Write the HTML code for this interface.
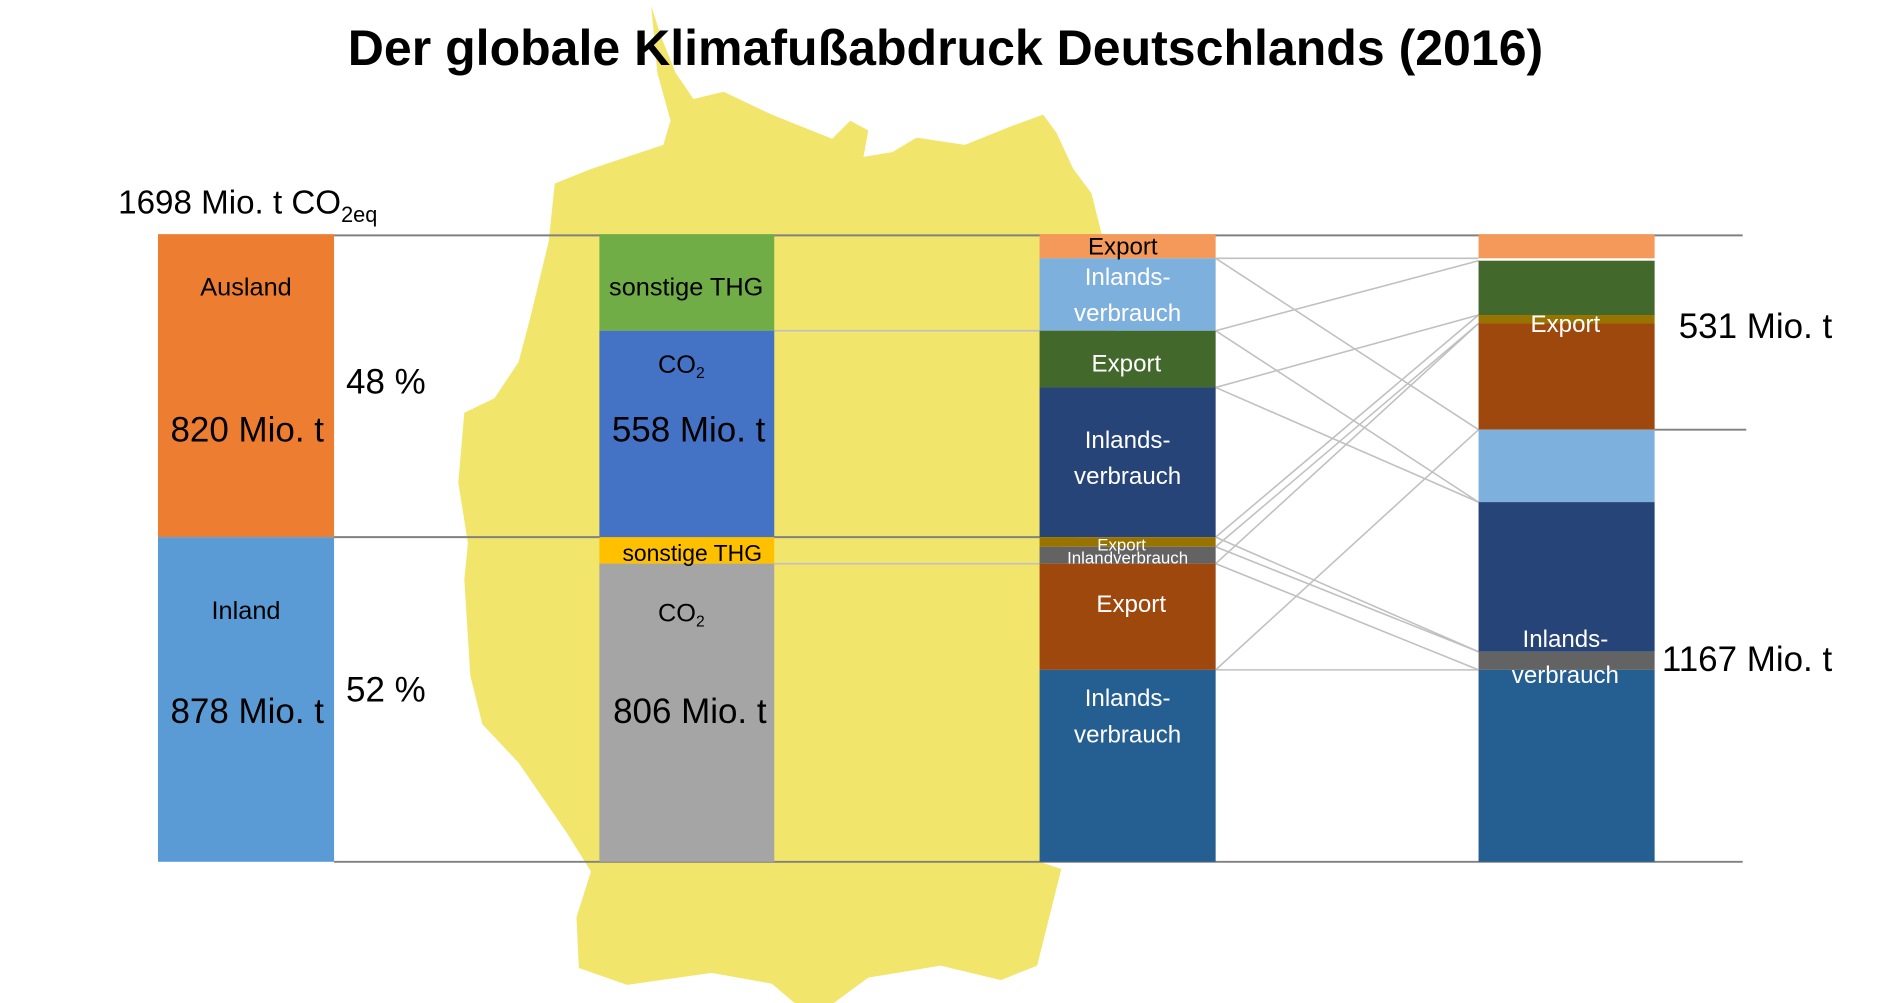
<!DOCTYPE html>
<html><head><meta charset="utf-8"><style>
html,body{margin:0;padding:0;background:#fff;width:1891px;height:1003px;overflow:hidden}
svg{display:block}
text{font-family:"Liberation Sans",sans-serif}
</style></head><body>
<svg width="1891" height="1003" viewBox="0 0 1568 831" preserveAspectRatio="none" xmlns="http://www.w3.org/2000/svg">
<rect width="1568" height="831" fill="#fff"/>
<polygon fill="#f2e56b" points="540,5 548,30 560,60 575,82 600,76 640,95 690,115 705,100 720,108 716,130 740,126 760,114 800,120 840,104 865,95 876,110 890,140 905,160 915,200 920,240 930,300 925,360 935,420 900,440 870,460 862,480 862,714 880,720 870,760 860,800 830,812 780,800 720,810 690,832 660,832 640,815 590,806 520,816 480,802 478,760 490,722 470,690 430,632 400,600 390,560 385,480 388,450 380,400 385,342 410,330 430,300 440,262 455,200 460,152 490,140 520,130 550,120 556,100 545,60"/>
<g stroke="#808080" stroke-width="1.6">
<line x1="277" y1="195" x2="1445" y2="195"/>
<line x1="277" y1="445" x2="862" y2="445"/>
<line x1="277" y1="714" x2="1445" y2="714"/>
<line x1="1372" y1="356" x2="1448" y2="356"/>
</g>
<g stroke="#c0c0c0" stroke-width="1.3">
<line x1="642" y1="274" x2="862" y2="274"/>
<line x1="642" y1="467" x2="862" y2="467"/>
<line x1="1008" y1="555" x2="1226" y2="555"/>
<line x1="1008" y1="214" x2="1226" y2="214"/>
<line x1="1008" y1="214" x2="1226" y2="356"/>
<line x1="1008" y1="274" x2="1226" y2="216"/>
<line x1="1008" y1="274" x2="1226" y2="416"/>
<line x1="1008" y1="321" x2="1226" y2="261"/>
<line x1="1008" y1="321" x2="1226" y2="416"/>
<line x1="1008" y1="445" x2="1226" y2="261"/>
<line x1="1008" y1="453" x2="1226" y2="268"/>
<line x1="1008" y1="467" x2="1226" y2="268"/>
<line x1="1008" y1="445" x2="1226" y2="540"/>
<line x1="1008" y1="453" x2="1226" y2="540"/>
<line x1="1008" y1="467" x2="1226" y2="555"/>
<line x1="1008" y1="555" x2="1226" y2="356"/>
</g>
<rect x="131" y="194" width="146" height="251" fill="#ed7d31"/>
<rect x="131" y="445" width="146" height="269" fill="#5b9bd5"/>
<rect x="497" y="194" width="145" height="80" fill="#70ad47"/>
<rect x="497" y="274" width="145" height="171" fill="#4472c4"/>
<rect x="497" y="445" width="145" height="22" fill="#ffc000"/>
<rect x="497" y="467" width="145" height="247" fill="#a5a5a5"/>
<rect x="862" y="194" width="146" height="20" fill="#f4995a"/>
<rect x="862" y="214" width="146" height="60" fill="#7eb0dd"/>
<rect x="862" y="274" width="146" height="47" fill="#43682b"/>
<rect x="862" y="321" width="146" height="124" fill="#264478"/>
<rect x="862" y="445" width="146" height="8" fill="#997300"/>
<rect x="862" y="453" width="146" height="14" fill="#636363"/>
<rect x="862" y="467" width="146" height="88" fill="#9e480e"/>
<rect x="862" y="555" width="146" height="159" fill="#255e91"/>
<rect x="1226" y="194" width="146" height="20" fill="#f4995a"/>
<rect x="1226" y="216" width="146" height="45" fill="#43682b"/>
<rect x="1226" y="261" width="146" height="7" fill="#997300"/>
<rect x="1226" y="268" width="146" height="88" fill="#9e480e"/>
<rect x="1226" y="356" width="146" height="60" fill="#7eb0dd"/>
<rect x="1226" y="416" width="146" height="124" fill="#264478"/>
<rect x="1226" y="540" width="146" height="15" fill="#636363"/>
<rect x="1226" y="555" width="146" height="159" fill="#255e91"/>
<text x="784" y="54" text-anchor="middle" font-size="41.5" font-weight="bold" fill="#000">Der globale Klimafußabdruck Deutschlands (2016)</text>
<text x="98" y="177" font-size="27.5">1698 Mio. t CO<tspan font-size="18" dy="7">2eq</tspan></text>
<g font-size="21" text-anchor="middle" fill="#000">
<text x="204" y="245">Ausland</text>
<text x="204" y="513">Inland</text>
<text x="569" y="245">sonstige THG</text>
<text x="574" y="465" font-size="19">sonstige THG</text>
<text x="565" y="309">CO<tspan font-size="13" dy="4">2</tspan></text>
<text x="565" y="515">CO<tspan font-size="13" dy="4">2</tspan></text>
</g>
<g font-size="29" text-anchor="middle" fill="#000">
<text x="205" y="366">820 Mio. t</text>
<text x="205" y="599">878 Mio. t</text>
<text x="571" y="366">558 Mio. t</text>
<text x="572" y="599">806 Mio. t</text>
<text x="320" y="326">48 %</text>
<text x="320" y="581">52 %</text>
</g>
<text x="1392" y="280" font-size="29">531 Mio. t</text>
<text x="1378" y="556" font-size="29">1167 Mio. t</text>
<g font-size="20" text-anchor="middle">
<text x="931" y="211" fill="#000">Export</text>
<text x="935" y="236" fill="#fff">Inlands-</text>
<text x="935" y="266" fill="#fff">verbrauch</text>
<text x="934" y="308" fill="#fff">Export</text>
<text x="935" y="371" fill="#fff">Inlands-</text>
<text x="935" y="401" fill="#fff">verbrauch</text>
<text x="938" y="507" fill="#fff">Export</text>
<text x="935" y="585" fill="#fff">Inlands-</text>
<text x="935" y="615" fill="#fff">verbrauch</text>
<text x="1298" y="275" fill="#fff">Export</text>
<text x="1298" y="536" fill="#fff">Inlands-</text>
<text x="1298" y="566" fill="#fff">verbrauch</text>
<text x="930" y="456" fill="#fff" font-size="14">Export</text>
<text x="935" y="467" fill="#fff" font-size="14">Inlandverbrauch</text>
</g>
</svg>
</body></html>
